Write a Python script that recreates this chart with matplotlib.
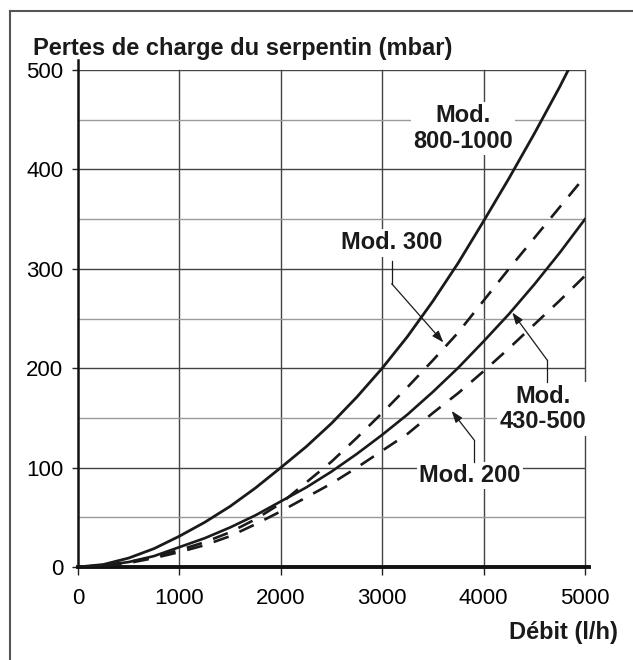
import numpy as np
import matplotlib.pyplot as plt
from matplotlib.lines import Line2D

plt.rcParams['font.family'] = ['Liberation Sans', 'DejaVu Sans']

# Débit (l/h) and pertes de charge (mbar)
x_800 = [0, 250, 500, 750, 1000, 1250, 1500, 1750, 2000, 2250, 2500, 2750, 3000,
         3250, 3500, 3750, 4000, 4250, 4500, 4750, 4835]
y_800 = [0, 2.5, 9, 18.5, 31, 45, 61, 79.5, 100, 121, 144.5, 171, 200,
         232, 267.5, 306, 348, 391, 436, 483, 500]

x_std = [0, 250, 500, 750, 1000, 1250, 1500, 1750, 2000, 2250, 2500, 2750, 3000,
         3250, 3500, 3750, 4000, 4250, 4500, 4750, 5000]
y_300 = [0, 1.5, 5, 10, 17, 25, 35, 48, 64, 85, 106, 130, 155,
         181, 208, 236, 268, 300, 331, 362, 393]
y_430 = [0, 1.5, 5, 11, 20, 29, 39.8, 52, 66, 80, 96, 113.8, 133,
         153.5, 176.2, 200.5, 227, 254.5, 284.3, 316.1, 350]
y_200 = [0, 1, 4, 9, 15, 22, 31, 43, 56, 70, 84, 100, 117,
         134, 155, 175, 197, 220, 244, 268, 293]

x_ticks = [0, 1000, 2000, 3000, 4000, 5000]
y_ticks = [0, 100, 200, 300, 400, 500]

fig = plt.figure(figsize=(6.33, 6.6), dpi=100)
ax = fig.add_axes([0.1232, 0.1409, 0.801, 0.753])

ax.set_xlim(0, 5000)
ax.set_ylim(0, 500)

# grid
for v in x_ticks[1:]:
    ax.axvline(v, color='#444444', lw=1.0, zorder=1, clip_on=False)
for h in y_ticks[1:]:
    ax.axhline(h, color='#444444', lw=1.0, zorder=1)
for h in [50, 150, 250, 350, 450]:
    ax.axhline(h, color='#9a9a9a', lw=1.0, zorder=1)

for s in ax.spines.values():
    s.set_visible(False)
ax.plot([0, 0], [0, 1.02], transform=ax.transAxes, color='#111111', lw=1.8,
        clip_on=False, zorder=3)
ax.plot([0, 1.008], [0, 0], transform=ax.transAxes, color='#111111', lw=2.8,
        clip_on=False, zorder=3)

ax.set_xticks(x_ticks)
ax.set_yticks(y_ticks)
ax.tick_params(axis='x', length=6, width=1, pad=9, labelsize=16, color='#222222')
ax.tick_params(axis='y', length=4.5, width=1, pad=6, labelsize=16, color='#222222')

lc = '#1a1a1a'
ax.plot(x_800, y_800, color=lc, lw=2.0, zorder=4)
ax.plot(x_std, y_430, color=lc, lw=1.9, zorder=4)
ax.plot(x_std, y_300, color=lc, lw=1.9, dashes=(6, 4.5), zorder=4)
ax.plot(x_std, y_200, color=lc, lw=1.9, dashes=(6, 4.5), zorder=4)

box = dict(boxstyle='square,pad=0.1', fc='white', ec='none')
tkw = dict(fontsize=17, fontweight='bold', ha='center', va='center',
           color='#1a1a1a', bbox=box, zorder=5, linespacing=1.15)
ax.text(3797, 441, 'Mod.\n800-1000', **tkw)
ax.text(3097, 326, 'Mod. 300', **tkw)
ax.text(4586, 159, 'Mod.\n430-500', clip_on=False, **tkw)
ax.text(3866, 92, 'Mod. 200', **tkw)

akw = dict(arrowstyle='-|>,head_length=0.7,head_width=0.25', color='#1a1a1a',
           lw=0.9, shrinkA=0, shrinkB=0)
# Mod. 300 leader
ax.plot([3094, 3094], [308, 285], color='#1a1a1a', lw=0.9, zorder=5)
ax.annotate('', xy=(3603, 226), xytext=(3094, 285), arrowprops=akw, zorder=5)
# Mod. 430-500 leader
ax.plot([4628, 4628], [186, 208], color='#1a1a1a', lw=0.9, zorder=5)
ax.annotate('', xy=(4283, 256), xytext=(4628, 208), arrowprops=akw, zorder=5)
# Mod. 200 leader
ax.plot([3905, 3905], [106, 128], color='#1a1a1a', lw=0.9, zorder=5)
ax.annotate('', xy=(3685, 157), xytext=(3905, 128), arrowprops=akw, zorder=5)

fig.text(33 / 633, 1 - 48 / 660, 'Pertes de charge du serpentin (mbar)',
         fontsize=17, fontweight='bold', ha='left', va='center', color='#1a1a1a')
fig.text(618 / 633, 1 - 632 / 660, 'Débit (l/h)',
         fontsize=17, fontweight='bold', ha='right', va='center', color='#1a1a1a')

# outer frame (left and top edges)
fig.add_artist(Line2D([10 / 633, 10 / 633], [0, 1 - 11 / 660], color='#555555', lw=1.5))
fig.add_artist(Line2D([10 / 633, 1], [1 - 11 / 660, 1 - 11 / 660], color='#555555', lw=1.5))

fig.savefig('out.png', dpi=100)
